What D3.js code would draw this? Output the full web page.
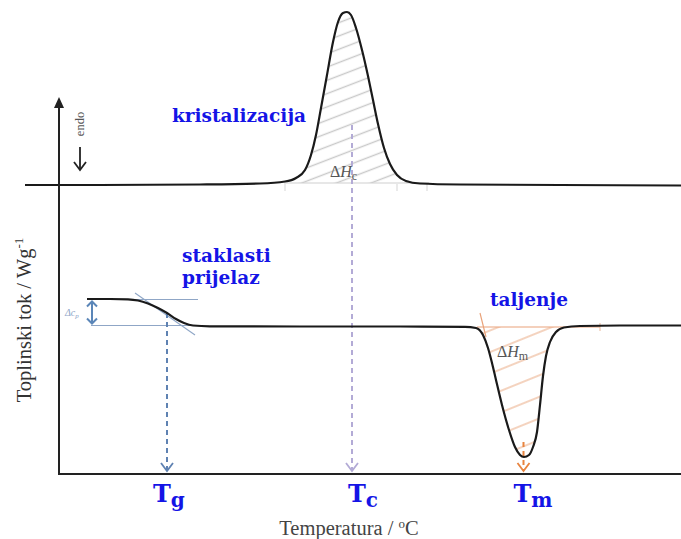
<!DOCTYPE html>
<html><head><meta charset="utf-8">
<script src="https://cdn.jsdelivr.net/npm/d3@7"></script>
<style>body{margin:0;background:#fff}svg{display:block}</style>
</head><body><svg id="c" width="681" height="539"></svg>
<script>
// ---- data (arbitrary temperature / heat-flow units) ----
const upperT = [-6.8, 8.2, 28.2, 40.2, 45.2, 47.4, 49.2, 50.4, 51.4, 52.4, 53.6, 54.8, 55.8, 56.8, 57.6, 58.4, 59.4, 60.6, 61.8, 62.8, 63.8, 65.0, 66.2, 67.6, 69.4, 72.2, 80.2, 100.2, 124.4];
const upperQ = [57.8, 57.8, 57.9, 58.1, 58.5, 59.2, 60.8, 63.8, 67.8, 73.2, 79.8, 86.4, 90.4, 92.2, 92.4, 91.8, 89.2, 84.8, 79.6, 74.8, 70.0, 65.2, 62.0, 59.8, 58.6, 58.1, 57.9, 57.8, 57.7];
const lowerT = [5.6, 10.2, 13.8, 15.8, 17.8, 19.8, 21.6, 23.4, 25.0, 26.8, 30.2, 48.2, 68.2, 81.2, 83.4, 84.8, 85.8, 86.6, 87.4, 88.6, 90.0, 91.2, 92.2, 93.0, 94.0, 94.8, 95.6, 96.2, 96.8, 97.4, 98.2, 99.4, 101.0, 104.2, 112.2, 124.4];
const lowerQ = [35.0, 35.0, 34.94, 34.7, 34.1, 33.2, 32.2, 31.0, 30.2, 29.7, 29.54, 29.5, 29.5, 29.44, 29.2, 27.8, 25.2, 22.2, 18.8, 13.8, 8.8, 5.4, 3.8, 3.4, 3.8, 5.4, 8.4, 13.8, 19.6, 23.6, 26.4, 28.4, 29.3, 29.6, 29.7, 29.7];
const transT = [21.6, 58.6, 92.9];           // Tg, Tc, Tm
const transTop = [32.2, 69.8, 6.4];          // where dashed drop lines start
const tickMain = ["T", "T", "T"];
const tickSub = ["g", "c", "m"];
const crystBase = 58.2, meltBase = 29.4, glassHigh = 34.9, glassLow = 29.7;

const W = 681, H = 539;
const svg = d3.select("#c");
const x = d3.scaleLinear().domain([0, 124.4]).range([59, 681]);
const y = d3.scaleLinear().domain([0, 94.8]).range([474, 0]);

const upper = upperT.map((t, i) => [t, upperQ[i]]);
const lower = lowerT.map((t, i) => [t, lowerQ[i]]);
const line = d3.line().x(d => x(d[0])).y(d => y(d[1])).curve(d3.curveMonotoneX);

const defs = svg.append("defs");
function hatch(id, color, gap, ang, w) {
  const p = defs.append("pattern").attr("id", id).attr("patternUnits", "userSpaceOnUse")
    .attr("width", 40).attr("height", gap).attr("patternTransform", `rotate(${ang})`);
  p.append("line").attr("x1", 0).attr("x2", 40).attr("y1", gap / 2).attr("y2", gap / 2)
    .attr("stroke", color).attr("stroke-width", w);
}
hatch("hg", "#c9c9c9", 12.4, -21, 1.3);
hatch("ho", "#eaa880", 20, -22, 1.2);

// hatched areas
const area = (base) => d3.area().x(d => x(d[0])).y0(y(base)).y1(d => y(d[1])).curve(d3.curveMonotoneX);
svg.append("path").datum(upper.filter(d => d[0] >= 45 && d[0] <= 72.5))
  .attr("d", area(crystBase)).attr("fill", "url(#hg)");
svg.append("path").datum(lower.filter(d => d[0] >= 83.4 && d[0] <= 101.5))
  .attr("d", area(meltBase)).attr("fill", "url(#ho)");

// crystallization baseline (grey) + small ticks
svg.append("line").attr("x1", x(45)).attr("x2", x(74)).attr("y1", y(crystBase)).attr("y2", y(crystBase))
  .attr("stroke", "#cfcfcf").attr("stroke-width", 1.2);
[45.2, 67.6, 73.6].forEach(t => svg.append("line").attr("x1", x(t)).attr("x2", x(t))
  .attr("y1", y(crystBase) + 1).attr("y2", y(crystBase) + 8).attr("stroke", "#d5d5d5").attr("stroke-width", 1));

// melting baseline (orange) + tangent
svg.append("line").attr("x1", x(83.6)).attr("x2", x(108.2)).attr("y1", y(meltBase)).attr("y2", y(meltBase))
  .attr("stroke", "#e9a27a").attr("stroke-width", 1.2);
svg.append("line").attr("x1", x(84.2)).attr("x2", x(85.4)).attr("y1", y(32.2)).attr("y2", y(27.4))
  .attr("stroke", "#e9a27a").attr("stroke-width", 1.2);
svg.append("line").attr("x1", x(108.2)).attr("x2", x(108.2)).attr("y1", y(meltBase) - 4).attr("y2", y(meltBase) + 4)
  .attr("stroke", "#e9b89a").attr("stroke-width", 1);

// glass transition construction lines
const gc = "#8fa6c6";
svg.append("line").attr("x1", x(5.6)).attr("x2", x(27.8)).attr("y1", y(glassHigh)).attr("y2", y(glassHigh))
  .attr("stroke", gc).attr("stroke-width", 1.1);
svg.append("line").attr("x1", x(6.4)).attr("x2", x(27)).attr("y1", y(glassLow)).attr("y2", y(glassLow))
  .attr("stroke", gc).attr("stroke-width", 1.1);
svg.append("line").attr("x1", x(15.2)).attr("x2", x(27.2)).attr("y1", y(36.2)).attr("y2", y(27.8))
  .attr("stroke", gc).attr("stroke-width", 1.1);
// double arrow delta cp
const dax = x(6.6), dc = "#5b86b8";
svg.append("line").attr("x1", dax).attr("x2", dax).attr("y1", y(glassHigh) + 2).attr("y2", y(glassLow) - 2)
  .attr("stroke", dc).attr("stroke-width", 2);
svg.append("path").attr("d", `M${dax - 5},${y(glassHigh) + 7}L${dax},${y(glassHigh) + 2}L${dax + 5},${y(glassHigh) + 7}M${dax - 5},${y(glassLow) - 7}L${dax},${y(glassLow) - 2}L${dax + 5},${y(glassLow) - 7}`)
  .attr("fill", "none").attr("stroke", dc).attr("stroke-width", 2);
const dcp = svg.append("text").attr("x", 65).attr("y", 316).attr("font-family", "Liberation Serif")
  .attr("font-style", "italic").attr("font-size", 10).attr("fill", "#8ea5c8");
dcp.append("tspan").text("Δc");
dcp.append("tspan").attr("font-size", 7).attr("dy", 2).text("p");

// dashed drop lines
const dropColors = ["#5f82b2", "#b3abd6", "#e8843f"];
transT.forEach((t, i) => {
  const xx = x(t), y0 = y(transTop[i]), y1 = y(0) - 3;
  svg.append("line").attr("x1", xx).attr("x2", xx).attr("y1", y0).attr("y2", y1)
    .attr("stroke", dropColors[i]).attr("stroke-width", 2).attr("stroke-dasharray", "5,4");
  svg.append("path").attr("d", `M${xx - 6},${y1 - 8}L${xx},${y1}L${xx + 6},${y1 - 8}`)
    .attr("fill", "none").attr("stroke", dropColors[i]).attr("stroke-width", 1.8);
});

// curves
svg.append("path").datum(upper).attr("d", line).attr("fill", "none").attr("stroke", "#1a1a1a").attr("stroke-width", 2.2);
svg.append("path").datum(lower).attr("d", line).attr("fill", "none").attr("stroke", "#1a1a1a").attr("stroke-width", 2.2);

// axes
svg.append("line").attr("x1", x(0)).attr("x2", x(0)).attr("y1", y(0)).attr("y2", 104).attr("stroke", "#222").attr("stroke-width", 2);
svg.append("path").attr("d", `M${x(0)},97L${x(0) + 5},108L${x(0) - 5},108Z`).attr("fill", "#222");
svg.append("line").attr("x1", x(0) - 1).attr("x2", W).attr("y1", y(0)).attr("y2", y(0)).attr("stroke", "#222").attr("stroke-width", 2);

// endo
svg.append("text").attr("transform", "translate(84,124) rotate(-90)").attr("text-anchor", "middle")
  .attr("font-family", "Liberation Serif").attr("font-size", 12.5).attr("fill", "#555").text("endo");
svg.append("line").attr("x1", 80).attr("x2", 80).attr("y1", 147).attr("y2", 170).attr("stroke", "#222").attr("stroke-width", 1.8);
svg.append("path").attr("d", "M74,162L80,170L86,162").attr("fill", "none").attr("stroke", "#222").attr("stroke-width", 1.8);

// axis titles
const yl = svg.append("text").attr("transform", "translate(31,320) rotate(-90)").attr("text-anchor", "middle")
  .attr("font-family", "Liberation Serif").attr("font-size", 20.5).attr("fill", "#333");
yl.append("tspan").text("Toplinski tok / Wg");
yl.append("tspan").attr("font-size", 13).attr("dy", -8).text("-1");
const xl = svg.append("text").attr("x", 349).attr("y", 535).attr("text-anchor", "middle")
  .attr("font-family", "Liberation Serif").attr("font-size", 20.5).attr("fill", "#444");
xl.append("tspan").text("Temperatura / ");
xl.append("tspan").attr("font-size", 13).attr("dy", -7).text("o");
xl.append("tspan").attr("dy", 7).text("C");

// tick labels
const blue = "#1414e6";
const labelDx = [-14, -4, -10];
transT.forEach((t, i) => {
  const tx = svg.append("text").attr("x", x(t) + labelDx[i]).attr("y", 502)
    .attr("font-family", "DejaVu Serif").attr("font-weight", "bold").attr("font-size", 24).attr("fill", blue);
  tx.append("tspan").text(tickMain[i]);
  tx.append("tspan").attr("font-size", 20).attr("dy", 5).text(tickSub[i]);
});

// annotations
const ann = (txt, xx, yy) => svg.append("text").attr("x", xx).attr("y", yy).attr("font-family", "DejaVu Serif")
  .attr("font-weight", "bold").attr("font-size", 18.5).attr("fill", blue).text(txt);
ann("kristalizacija", 172, 122);
ann("staklasti", 182, 262);
ann("prijelaz", 182, 284);
ann("taljenje", 490, 306);

const dh = (xx, yy, sub) => {
  const t = svg.append("text").attr("x", xx).attr("y", yy).attr("font-family", "Liberation Serif")
    .attr("font-size", 16).attr("fill", "#555");
  t.append("tspan").text("Δ");
  t.append("tspan").attr("font-style", "italic").text("H");
  t.append("tspan").attr("font-size", 12).attr("dy", 3).text(sub);
};
dh(330, 177, "c");
dh(497, 357, "m");
</script></body></html>
